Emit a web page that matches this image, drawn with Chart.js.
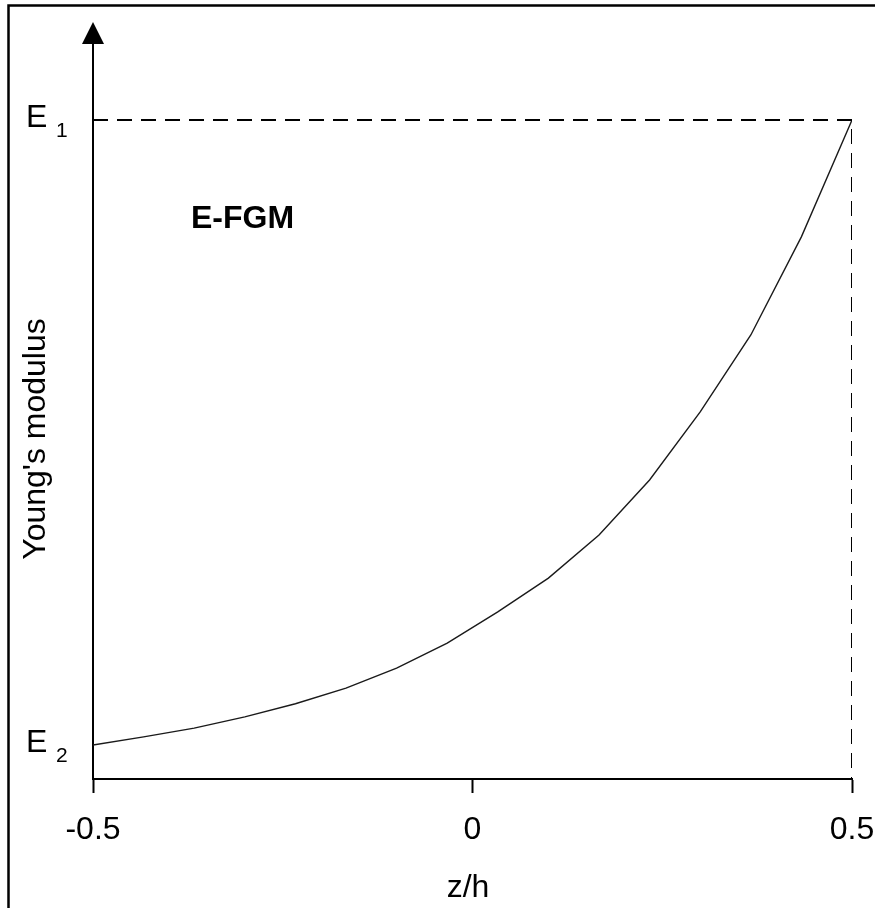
<!DOCTYPE html>
<html>
<head>
<meta charset="utf-8">
<script src="https://cdn.jsdelivr.net/npm/chart.js@4/dist/chart.umd.min.js"></script>
<style>
  html, body { margin: 0; padding: 0; background: #fff; }
  #wrap { width: 875px; height: 908px; position: relative; }
  canvas { display: block; }
</style>
</head>
<body>
<div id="wrap"><canvas id="c" width="875" height="908"></canvas></div>
<script>
// ---- data ----
const zValues = [-0.5, -0.4333, -0.3667, -0.3, -0.2333, -0.1667, -0.1, -0.0333,
                 0.0333, 0.1, 0.1667, 0.2333, 0.3, 0.3667, 0.4333, 0.5];
// Young's modulus, normalised: E2 -> 0, E1 -> 1
const eValues = [0, 0.013, 0.027, 0.045, 0.066, 0.091, 0.123, 0.163,
                 0.213, 0.267, 0.336, 0.424, 0.533, 0.656, 0.813, 1];
const xTickValues = [-0.5, 0, 0.5];
const xTickLabels = ['-0.5', '0', '0.5'];
const yTickValues = [1, 0];          // E1, E2
const yTickMain = ['E', 'E'];
const yTickSub = ['1', '2'];
const xTitle = 'z/h';
const yTitle = "Young's modulus";
const annotationText = 'E-FGM';
const yMin = -0.0544, yMax = 1.128;

const FONT = '"Liberation Sans", Arial, Helvetica, sans-serif';

const decor = {
  id: 'decor',
  beforeDraw(chart) {
    const ctx = chart.ctx;
    ctx.save();
    ctx.fillStyle = '#fff';
    ctx.fillRect(0, 0, chart.width, chart.height);
    // outer frame (top and left)
    ctx.strokeStyle = '#000';
    ctx.lineWidth = 2.5;
    ctx.beginPath();
    ctx.moveTo(8.5, 908);
    ctx.lineTo(8.5, 5.5);
    ctx.lineTo(875, 5.5);
    ctx.stroke();
    ctx.restore();
  },
  afterDraw(chart) {
    const ctx = chart.ctx;
    const xs = chart.scales.x, ys = chart.scales.y;
    const ax = xs.getPixelForValue(-0.5);
    ctx.save();
    // arrow head on y axis
    ctx.fillStyle = '#000';
    ctx.beginPath();
    ctx.moveTo(ax, 22);
    ctx.lineTo(ax - 11, 44);
    ctx.lineTo(ax + 11, 44);
    ctx.closePath();
    ctx.fill();
    // y axis continuation up to arrow
    ctx.strokeStyle = '#000';
    ctx.lineWidth = 2;
    ctx.beginPath();
    ctx.moveTo(Math.round(ax), 40);
    ctx.lineTo(Math.round(ax), chart.chartArea.top + 1);
    ctx.stroke();

    ctx.fillStyle = '#000';
    ctx.textBaseline = 'alphabetic';
    // y tick labels E1 / E2 with subscripts
    yTickValues.forEach((v, i) => {
      const py = ys.getPixelForValue(v);
      ctx.font = '32px ' + FONT;
      ctx.textAlign = 'left';
      ctx.fillText(yTickMain[i], 26, py + 7);
      ctx.font = '21px ' + FONT;
      ctx.fillText(yTickSub[i], 56, py + 17);
    });
    // x title
    ctx.font = '32px ' + FONT;
    ctx.textAlign = 'center';
    ctx.fillText(xTitle, 468, 897);
    // y title (rotated)
    ctx.save();
    ctx.translate(45, 439);
    ctx.rotate(-Math.PI / 2);
    ctx.textAlign = 'center';
    ctx.fillText(yTitle, 0, 0);
    ctx.restore();
    // annotation
    ctx.font = 'bold 32px ' + FONT;
    ctx.textAlign = 'left';
    ctx.fillText(annotationText, 191, 228);
    ctx.restore();
  }
};

const curve = zValues.map((z, i) => ({ x: z, y: eValues[i] }));
const guide = [
  { x: zValues[0], y: yTickValues[0] },
  { x: zValues[zValues.length - 1], y: yTickValues[0] },
  { x: zValues[zValues.length - 1], y: yMin }
];

new Chart(document.getElementById('c'), {
  type: 'line',
  data: {
    datasets: [
      { data: guide, borderColor: '#000', borderWidth: 2, borderDash: [15, 9],
        pointRadius: 0, tension: 0, fill: false },
      { data: curve, borderColor: '#1a1a1a', borderWidth: 1.4,
        pointRadius: 0, tension: 0, fill: false }
    ]
  },
  options: {
    responsive: false,
    animation: false,
    events: [],
    layout: { padding: { left: 0, right: 23, top: 40, bottom: 0 } },
    plugins: { legend: { display: false }, tooltip: { enabled: false }, title: { display: false } },
    scales: {
      x: {
        type: 'linear', min: -0.5, max: 0.5,
        afterBuildTicks(s) { s.ticks = xTickValues.map(v => ({ value: v })); },
        afterFit(s) { s.height = 908 - 779; s.paddingLeft = 0; s.paddingRight = 0; },
        ticks: {
          autoSkip: false, maxRotation: 0, padding: 18,
          color: '#000', font: { family: FONT, size: 32 },
          callback: (v) => xTickLabels[xTickValues.indexOf(v)]
        },
        grid: { drawOnChartArea: false, drawTicks: true, tickLength: 14,
                tickWidth: 2, tickColor: '#000' },
        border: { display: true, color: '#000', width: 2 }
      },
      y: {
        type: 'linear', min: yMin, max: yMax,
        afterFit(s) { s.width = 93; s.paddingTop = 0; s.paddingBottom = 0; },
        ticks: { display: false },
        grid: { display: false, drawOnChartArea: false, drawTicks: false },
        border: { display: true, color: '#000', width: 2 }
      }
    }
  },
  plugins: [decor]
});
</script>
</body>
</html>
